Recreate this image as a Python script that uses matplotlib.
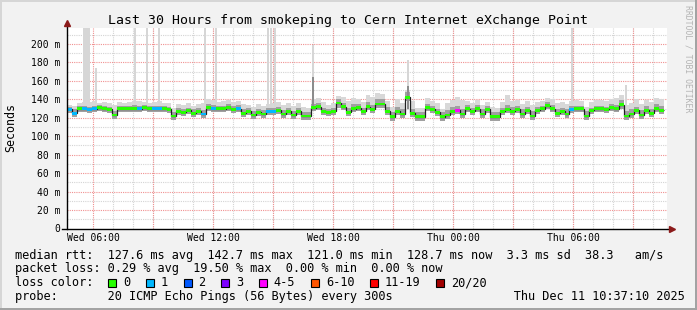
import numpy as np
import matplotlib
matplotlib.use("Agg")
import matplotlib.pyplot as plt
from matplotlib.patches import Rectangle

W, H = 697, 310
MONO = "DejaVu Sans Mono"
BG, INK, GREY = "#f2f2f2", "#000000", "#202020"

# ---- data (ms, one value per 15 min, from 04:42 Wed) ----
start_hour = 4.7
median = [129, 125, 130, 130, 129, 130, 131, 130, 129, 123,
          130, 130, 130, 130, 130, 131, 130, 130, 130, 130,
          129, 122, 127, 126, 128, 125, 127, 124, 131, 130,
          130, 130, 131, 129, 130, 125, 127, 123, 126, 124,
          127, 127, 128, 124, 127, 123, 127, 122, 122, 131,
          132, 127, 126, 127, 136, 132, 126, 130, 131, 127,
          132, 129, 135, 135, 127, 121, 127, 124, 142, 125,
          121, 121, 131, 129, 126, 121, 123, 127, 128, 124,
          130, 127, 130, 124, 129, 121, 121, 127, 129, 127,
          129, 124, 128, 122, 128, 130, 133, 130, 125, 127,
          124, 129, 130, 130, 122, 128, 130, 130, 129, 131,
          130, 134, 122, 124, 128, 123, 128, 125, 130, 128]
loss = [1, 1, 0, 1, 1, 1, 0, 0, 0, 0,
        0, 0, 0, 0, 1, 0, 0, 1, 1, 0,
        0, 0, 0, 0, 0, 0, 0, 1, 0, 1,
        0, 0, 0, 0, 1, 0, 0, 0, 0, 0,
        1, 1, 0, 0, 0, 0, 0, 0, 0, 0,
        0, 0, 0, 0, 0, 0, 0, 0, 0, 0,
        0, 0, 0, 0, 0, 0, 0, 0, 0, 0,
        0, 0, 0, 0, 0, 0, 0, 0, 4, 0,
        0, 0, 0, 0, 0, 0, 0, 0, 0, 0,
        0, 0, 0, 0, 0, 0, 0, 0, 0, 0,
        0, 1, 0, 0, 0, 0, 0, 0, 0, 0,
        0, 0, 0, 0, 0, 0, 0, 0, 0, 0]
smoke_hi = [134, 133, 136, 137, 137, 138, 136, 137, 136, 134,
            137, 136, 137, 138, 138, 137, 136, 137, 138, 136,
            136, 131, 135, 134, 136, 133, 135, 136, 140, 139,
            137, 138, 139, 137, 138, 135, 134, 132, 135, 133,
            135, 136, 137, 134, 136, 133, 136, 132, 131, 140,
            141, 137, 134, 136, 144, 142, 138, 141, 140, 137,
            145, 143, 147, 146, 138, 132, 140, 136, 150, 138,
            131, 131, 141, 138, 136, 130, 136, 139, 142, 139,
            138, 136, 139, 134, 137, 132, 131, 137, 145, 138,
            139, 135, 138, 134, 137, 138, 141, 140, 136, 137,
            135, 138, 139, 138, 132, 137, 139, 139, 138, 140,
            141, 145, 134, 136, 140, 135, 139, 137, 141, 140]
smoke_mid = [132, 129, 133, 133, 132, 133, 134, 133, 132, 127,
             133, 133, 133, 134, 133, 134, 133, 133, 133, 133,
             132, 126, 131, 130, 131, 129, 131, 128, 135, 134,
             133, 133, 135, 133, 134, 129, 131, 127, 130, 128,
             131, 131, 132, 128, 131, 127, 131, 126, 126, 135,
             136, 131, 130, 131, 140, 136, 131, 135, 135, 131,
             137, 134, 140, 140, 132, 126, 132, 129, 148, 130,
             126, 126, 135, 133, 130, 126, 128, 132, 133, 129,
             134, 131, 134, 129, 133, 126, 126, 131, 134, 132,
             133, 129, 132, 127, 132, 133, 137, 134, 130, 131,
             129, 133, 133, 133, 127, 131, 133, 133, 132, 135,
             134, 139, 127, 129, 132, 128, 133, 130, 135, 133]
smoke_lo = [125, 121, 126, 126, 125, 126, 127, 126, 125, 119,
            126, 126, 126, 126, 126, 127, 126, 126, 126, 126,
            125, 118, 123, 122, 124, 121, 123, 120, 127, 126,
            126, 126, 127, 125, 126, 121, 123, 119, 122, 120,
            123, 123, 124, 120, 123, 119, 123, 118, 118, 127,
            128, 123, 122, 123, 131, 128, 122, 126, 127, 123,
            128, 125, 131, 131, 123, 117, 123, 120, 138, 121,
            117, 117, 127, 125, 122, 117, 119, 123, 124, 120,
            126, 123, 126, 120, 125, 117, 117, 123, 125, 123,
            125, 120, 124, 118, 124, 126, 129, 126, 121, 123,
            120, 125, 126, 126, 118, 124, 126, 126, 125, 127,
            126, 130, 118, 120, 124, 119, 124, 121, 126, 124]
# single-probe outliers (hours since start, max rtt, darker core top)
spike_t = [0.85, 0.93, 1.02, 1.10, 1.47, 3.40, 3.98, 4.62, 6.90, 7.45,
           10.03, 10.22, 10.38, 12.32, 17.07, 25.27, 27.93]
spike_top = [217, 217, 217, 217, 174, 217, 217, 217, 217, 217,
             217, 217, 217, 199, 183, 217, 156]
spike_dark = [np.nan] * 13 + [164, 154, np.nan, np.nan]

loss_labels = ["0", "1", "2", "3", "4-5", "6-10", "11-19", "20/20"]
loss_colors = ["#26ff00", "#00b8ff", "#0059ff", "#7e00ff",
               "#ff00ff", "#ff5500", "#ff0000", "#a10000"]
loss_bins = [0, 1, 2, 3, 5, 10, 19, 20]

y_ticks = list(range(0, 201, 20))
y_labels = ["0"] + [f"{v} m" for v in y_ticks[1:]]
x_tick_hours = list(range(6, 36, 3))
x_labels = ["Wed 06:00", "", "Wed 12:00", "", "Wed 18:00", "",
            "Thu 00:00", "", "Thu 06:00", ""]

title = "Last 30 Hours from smokeping to Cern Internet eXchange Point"
legend_lines = [
    "median rtt:  127.6 ms avg  142.7 ms max  121.0 ms min  "
    "128.7 ms now  3.3 ms sd  38.3   am/s",
    "packet loss: 0.29 % avg  19.50 % max  0.00 % min  0.00 % now",
    "loss color:",
    "probe:       20 ICMP Echo Pings (56 Bytes) every 300s"
    "                 Thu Dec 11 10:37:10 2025",
]
row_base = [258.5, 272, 286, 300]

# ---- figure ----
fig = plt.figure(figsize=(W / 100, H / 100), dpi=100)
fig.patch.set_facecolor(BG)
ax = fig.add_axes([67 / W, (H - 228.5) / H, 600 / W, 200.5 / H])
ax.set_facecolor("white")
ax.set_xlim(0, 30)
ax.set_ylim(0, 217.3)

n = len(median)
edges = np.linspace(0, 29.85, n + 1)
med = np.array(median, float)

# grid
for h in np.arange(7, 36) - start_hour:
    ax.axvline(h, color="#d4d4d4", lw=0.8, ls=(0, (1, 1)), zorder=0.5)
for v in range(10, 217, 20):
    ax.axhline(v, color="#d4d4d4", lw=0.8, ls=(0, (1, 1)), zorder=0.5)
for h in np.array(x_tick_hours) - start_hour:
    ax.axvline(h, color="#f09090", lw=0.8, ls=(0, (1, 1)), zorder=0.6)
for v in y_ticks[1:]:
    ax.axhline(v, color="#f09090", lw=0.8, ls=(0, (1, 1)), zorder=0.6)

# smoke
ax.stairs(smoke_hi, edges, baseline=smoke_lo, fill=True, color="#d8d8d8",
          lw=0, zorder=1)
ax.stairs(smoke_mid, edges, baseline=smoke_lo, fill=True, color="#a0a0a0",
          lw=0, zorder=1.1)
ax.bar(spike_t, np.array(spike_top) - 128, bottom=128, width=0.1,
       color="#d6d6d6", lw=0, zorder=1.05)
dark = np.array(spike_dark)
ok = ~np.isnan(dark)
ax.bar(np.array(spike_t)[ok], dark[ok] - 130, bottom=130, width=0.1,
       color="#8c8c8c", lw=0, zorder=1.15)

# median: black line under loss-coloured band
ax.stairs(med, edges, baseline=None, color=GREY, lw=0.9, zorder=2)
cols = [loss_colors[np.searchsorted(loss_bins, l)] for l in loss]
ax.bar(edges[:-1], np.full(n, 3.0), bottom=med - 1.5,
       width=np.diff(edges), align="edge", color=cols, lw=0, zorder=3)

# axes
for sp in ax.spines.values():
    sp.set_visible(False)
ax.plot([0, 0], [0, 1.02], transform=ax.transAxes, color=INK, lw=1,
        clip_on=False, zorder=5)
ax.plot([-0.008, 1.006], [0, 0], transform=ax.transAxes, color=INK, lw=1,
        clip_on=False, zorder=5)
ax.plot([0], [1.025], marker="^", ms=4, color="#8b1a1a",
        transform=ax.transAxes, clip_on=False, zorder=6)
ax.plot([1.009], [0], marker=">", ms=4, color="#8b1a1a",
        transform=ax.transAxes, clip_on=False, zorder=6)

ax.set_yticks(y_ticks)
ax.set_yticklabels(y_labels, family=MONO, fontsize=7)
ax.set_xticks(np.array(x_tick_hours) - start_hour)
ax.set_xticklabels(x_labels, family=MONO, fontsize=7)
ax.tick_params(axis="y", length=0, pad=5)
ax.tick_params(axis="x", length=0, pad=3.5)

# texts
fig.text(347.5 / W, 1 - 24 / H, title, family=MONO, fontsize=9.5,
         ha="center", va="baseline", color=INK)
fig.text(11 / W, 1 - 127 / H, "Seconds", family=MONO, fontsize=8.4,
         rotation=90, ha="center", va="center", color=INK)
fig.text(688 / W, 1 - 59 / H, "RRDTOOL / TOBI OETIKER", family=MONO,
         fontsize=5.9, rotation=270, ha="center", va="center",
         color="#b4b4b4")

for base, s in zip(row_base, legend_lines):
    fig.text(15.4 / W, 1 - base / H, s, family=MONO, fontsize=8.54,
             va="baseline", ha="left", color=INK)

x = 108.3
for lab, col in zip(loss_labels, loss_colors):
    fig.add_artist(Rectangle((x / W, 1 - 286.5 / H), 8 / W, 8 / H,
                             transform=fig.transFigure, facecolor=col,
                             edgecolor=INK, lw=0.8))
    fig.text((x + 15) / W, 1 - 286 / H, lab, family=MONO, fontsize=8.54,
             va="baseline", ha="left", color=INK)
    x += 30.5 + 7.14 * len(lab)

# 3-D style canvas border
fig.add_artist(Rectangle((0, 1 - 2 / H), 1, 2 / H, transform=fig.transFigure,
                         facecolor="#d6d6d6", lw=0))
fig.add_artist(Rectangle((0, 0), 2 / W, 1, transform=fig.transFigure,
                         facecolor="#d6d6d6", lw=0))
fig.add_artist(Rectangle((0, 0), 1, 2.5 / H, transform=fig.transFigure,
                         facecolor="#a3a3a3", lw=0))
fig.add_artist(Rectangle((1 - 2.5 / W, 0), 2.5 / W, 1,
                         transform=fig.transFigure, facecolor="#a3a3a3", lw=0))

fig.savefig("out.png", dpi=100, facecolor=BG)
